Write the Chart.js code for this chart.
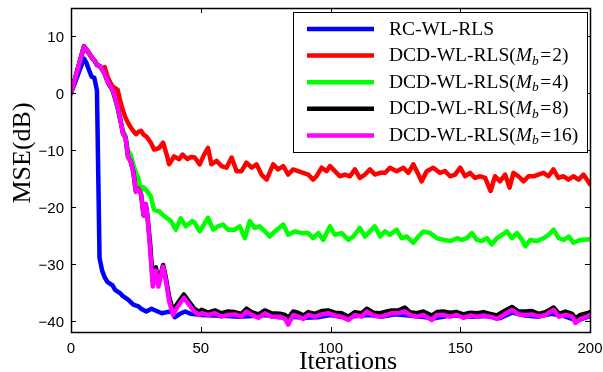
<!DOCTYPE html>
<html>
<head>
<meta charset="utf-8">
<script src="https://cdn.jsdelivr.net/npm/chart.js@4.4.0/dist/chart.umd.min.js"></script>
<style>
  html, body { margin: 0; padding: 0; background: #fff; }
  #wrap { width: 603px; height: 372px; }
</style>
</head>
<body>
<div id="wrap"><canvas id="mseChart" width="603" height="372"></canvas></div>
<script>
// MSE learning curves: RC-WL-RLS vs DCD-WL-RLS with several Mb values

// axis ticks
const xTicks = [0, 50, 100, 150, 200];
const yTicks = [10, 0, -10, -20, -30, -40];

// RC-WL-RLS
const rcIter = [
  0, 5, 6, 7, 8, 9, 10, 11, 12, 13,
  14, 16, 17, 19, 20, 22, 24, 26, 27, 29,
  31, 33, 35, 37, 39, 40, 42, 44, 46, 48,
  50, 55, 60, 65, 70, 75, 80, 85, 90, 95,
  100, 105, 110, 115, 120, 125, 130, 135, 140, 145,
  150, 155, 160, 165, 170, 175, 180, 185, 190, 195,
  200
];
const rcMse = [
  0, 6.1, 5.3, 4.0, 2.9, 2.7, 0.5, -29.0, -31.2, -32.4,
  -33.2, -33.8, -34.6, -35.2, -35.7, -36.3, -37.2, -37.5, -37.9, -38.4,
  -37.9, -38.3, -38.7, -38.5, -38.4, -39.4, -38.8, -38.4, -38.8, -38.9,
  -39.0, -39.1, -39.2, -39.3, -39.2, -39.0, -39.4, -39.3, -39.5, -39.4,
  -39.0, -39.4, -39.2, -39.0, -39.3, -38.9, -39.1, -39.3, -39.6, -39.2,
  -39.1, -39.3, -39.2, -39.6, -38.6, -39.1, -39.3, -38.8, -39.2, -40.0,
  -39.2
];

// DCD-WL-RLS, Mb = 2
const mb2Iter = [
  0, 5, 6, 7, 8, 9, 10, 11, 12, 13,
  14, 15, 16, 17, 18, 19, 20, 21, 22, 23,
  24, 25, 26, 27, 28, 29, 30, 31, 32, 33,
  34, 35.5, 37, 37.8, 38.8, 39.7, 41.7, 43, 44.9, 46.2,
  47.7, 49.6, 51.3, 52.8, 54.1, 56.1, 58, 59.9, 61.9, 63.8,
  65.7, 67.6, 69.6, 71.5, 73.4, 75.4, 77.9, 79.8, 81.8, 83.7,
  85.6, 87.5, 89.5, 91.4, 93.3, 94.6, 96.6, 98.5, 99.8, 101.7,
  103.6, 105.6, 107.5, 109.4, 111.3, 113.3, 115.2, 117.1, 119.1, 121,
  122.9, 125.5, 128.1, 130, 131.9, 133.9, 135.1, 137.1, 139.6, 142.2,
  144.1, 146.1, 148, 150, 151.9, 153.8, 155.7, 157.7, 159.6, 161.7,
  163.4, 165.3, 167.3, 169, 170.5, 172.4, 174.4, 176.3, 178.2, 180.1,
  182.1, 184, 185.9, 187.8, 189.8, 191.7, 193.6, 195.6, 197.5, 200
];
const mb2Mse = [
  0, 8.3, 7.7, 7.0, 6.3, 5.8, 5.0, 4.8, 4.3, 4.6,
  3.0, 2.0, 1.2, 0.9, 0.6, -1.4, -3.0, -4.3, -5.2, -6.0,
  -6.6, -7.2, -6.8, -6.6, -7.3, -7.6, -8.2, -8.9, -9.9, -9.8,
  -9.6, -8.7, -11.0, -12.5, -11.8, -11.1, -11.6, -10.8, -11.6, -11.2,
  -11.3, -12.5, -10.8, -9.6, -12.5, -11.9, -12.8, -13.1, -11.3, -13.7,
  -13.7, -12.2, -13.1, -12.5, -14.3, -15.2, -12.5, -13.4, -12.8, -14.3,
  -13.4, -13.7, -14.0, -14.3, -15.2, -14.6, -13.1, -13.7, -12.8, -13.7,
  -14.6, -14.3, -14.6, -13.4, -14.9, -14.3, -13.4, -14.3, -14.0, -14.0,
  -13.1, -13.7, -13.1, -14.0, -12.5, -14.3, -15.5, -13.7, -13.1, -14.0,
  -13.7, -14.6, -14.3, -13.1, -14.6, -14.0, -14.9, -14.6, -14.9, -17.2,
  -14.6, -15.5, -14.3, -16.6, -14.0, -14.6, -15.5, -14.6, -14.6, -14.3,
  -14.0, -14.6, -13.4, -14.9, -14.6, -15.2, -14.6, -15.2, -14.3, -16.0
];

// DCD-WL-RLS, Mb = 4
const mb4Iter = [
  0, 5, 6, 7, 8, 9, 10, 11, 12, 13,
  14, 15, 16, 17, 18, 19, 20, 21, 22, 23,
  24, 25, 26, 26.9, 27.8, 28.8, 30.7, 32, 34, 35.9,
  38.5, 40.4, 42.3, 44.2, 46.8, 47.7, 49.6, 52.8, 54.8, 56.7,
  58.6, 60.5, 63.1, 65, 67, 68.9, 70.8, 72.7, 74.7, 76.6,
  78.5, 81.8, 83.7, 86.3, 88.9, 91.4, 93.3, 95.3, 97.2, 99.8,
  101.7, 104.3, 106.9, 108.8, 111.3, 113.3, 115.2, 117.1, 119.1, 121,
  122.9, 125.5, 127.4, 129.4, 131.9, 133.9, 135.8, 138.4, 141, 143.5,
  146.1, 148.7, 150.6, 152.5, 154.5, 156.4, 158.3, 160.3, 162.1, 164.1,
  166.1, 168, 169.9, 171.9, 173.8, 175.1, 177, 179.5, 182.1, 184.1,
  186, 187.9, 189.9, 191.8, 193.7, 196.3, 200
];
const mb4Mse = [
  0, 8.2, 7.6, 7.0, 6.3, 5.8, 5.0, 4.8, 4.2, 3.4,
  2.2, 1.3, 0.4, -1.1, -2.7, -4.8, -6.5, -7.5, -10.2, -10.8,
  -12.5, -14.0, -15.0, -17.2, -16.5, -16.9, -18.1, -20.5, -20.8, -21.6,
  -22.5, -24.0, -22.0, -23.4, -22.5, -22.8, -24.3, -21.9, -24.0, -23.4,
  -23.1, -24.0, -24.0, -23.4, -25.5, -22.5, -23.7, -23.4, -24.3, -25.2,
  -24.3, -23.1, -24.9, -24.3, -24.6, -24.6, -25.5, -24.6, -25.8, -23.4,
  -24.9, -24.6, -25.8, -25.2, -23.7, -25.2, -24.3, -23.4, -25.2, -24.3,
  -24.9, -24.0, -25.5, -25.2, -26.3, -25.2, -24.3, -24.6, -25.5, -25.8,
  -26.0, -25.5, -25.8, -25.5, -24.6, -25.8, -26.0, -25.5, -26.6, -25.5,
  -24.9, -24.3, -25.5, -24.6, -25.8, -26.9, -25.8, -26.0, -25.5, -24.9,
  -24.0, -25.5, -25.8, -25.2, -26.3, -25.8, -25.7
];

// DCD-WL-RLS, Mb = 8 and Mb = 16 (read on the same iterations)
const mbHighIter = [
  0, 5, 6, 7, 8, 9, 10, 11, 12, 13,
  14, 15, 16, 17, 18, 19, 20, 21, 22, 23,
  24, 25, 26, 27, 28, 28.8, 29.5, 30.5, 31.5, 32.7,
  33.7, 35.5, 36.5, 37.8, 39.3, 41, 43.5, 45.5, 47.5, 49.5,
  50.3, 52.8, 55.4, 58, 60.5, 63.1, 65.7, 67.6, 69.6, 72.2,
  74.7, 77.3, 80.5, 82.5, 83.7, 85.6, 87.5, 89.5, 91.4, 94,
  96.6, 99.1, 101.7, 104.3, 106.9, 109.4, 112, 114, 116.5, 119.1,
  121.7, 123.6, 126.2, 128.7, 130.6, 133.2, 135.8, 139, 141, 143.5,
  146.1, 148.7, 151.2, 153.8, 156.4, 159, 161.5, 164.1, 166.7, 169.9,
  172.5, 175.1, 177.6, 180.2, 182.8, 186, 188, 190.6, 193.1, 194.4,
  196.3, 198.9, 200
];
const mb8Mse = [
  0, 8.2, 7.6, 7.0, 6.3, 5.8, 5.0, 4.8, 4.2, 3.4,
  2.2, 1.3, 0.6, -0.8, -2.5, -4.6, -7.0, -7.8, -11.2, -12.0,
  -13.8, -17.3, -16.8, -17.8, -21.5, -19.5, -21.8, -26.5, -32.8, -30.6,
  -33.4, -30.2, -32.3, -35.8, -38.2, -37.0, -35.4, -36.7, -37.9, -38.5,
  -38.1, -38.6, -38.2, -38.7, -38.4, -38.5, -38.8, -37.9, -38.5, -38.9,
  -38.2, -38.7, -38.8, -39.0, -39.6, -38.4, -38.6, -39.1, -38.5, -38.8,
  -38.3, -38.2, -38.6, -38.7, -39.3, -38.5, -38.7, -37.9, -38.6, -38.7,
  -38.4, -38.2, -38.2, -37.7, -38.5, -38.7, -38.4, -39.1, -38.5, -38.4,
  -38.6, -38.5, -38.9, -38.6, -38.7, -38.5, -38.8, -39.1, -38.4, -37.6,
  -38.4, -38.4, -38.3, -38.8, -38.5, -37.7, -38.8, -38.4, -38.8, -39.6,
  -39.0, -38.7, -38.5
];
const mb16Mse = [
  0, 8.2, 7.6, 7.0, 6.3, 5.8, 5.0, 4.8, 4.2, 3.4,
  2.2, 1.3, 0.6, -0.8, -2.5, -4.6, -7.0, -7.8, -11.2, -12.0,
  -13.8, -17.3, -16.8, -17.8, -21.5, -19.5, -21.8, -27.5, -34.0, -31.2,
  -34.0, -30.5, -32.8, -36.5, -39.0, -37.6, -36.0, -37.2, -38.4, -39.0,
  -38.7, -39.0, -38.7, -39.3, -39.0, -38.9, -39.3, -38.4, -39.0, -39.5,
  -38.7, -39.3, -39.3, -39.7, -40.7, -39.0, -39.3, -39.7, -39.0, -39.3,
  -38.9, -38.7, -39.1, -39.3, -39.9, -39.0, -39.3, -38.4, -39.1, -39.3,
  -39.0, -38.7, -38.7, -38.4, -39.0, -39.3, -39.0, -39.9, -39.0, -39.0,
  -39.3, -39.0, -39.5, -39.1, -39.3, -39.1, -39.3, -39.7, -39.0, -38.1,
  -38.9, -39.0, -38.9, -39.3, -39.0, -38.1, -39.3, -39.0, -39.3, -40.4,
  -39.7, -39.3, -39.0
];

const seriesNames = ['RC-WL-RLS', 'DCD-WL-RLS', 'DCD-WL-RLS', 'DCD-WL-RLS', 'DCD-WL-RLS'];
const mbValues = [null, 2, 4, 8, 16];
const seriesColors = ['#0000ff', '#ff0000', '#00ff00', '#000000', '#ff00ff'];

// x/y の配列から点列を作る
function toPoints(iters, values) {
  return iters.map((it, i) => ({ x: it, y: values[i] }));
}

const seriesPoints = [
  toPoints(rcIter, rcMse),
  toPoints(mb2Iter, mb2Mse),
  toPoints(mb4Iter, mb4Mse),
  toPoints(mbHighIter, mb8Mse),
  toPoints(mbHighIter, mb16Mse)
];

const SERIF = '"Liberation Serif", "Times New Roman", serif';
const SANS = '"Liberation Sans", Arial, sans-serif';

// legend label with italic M and subscript b
function drawLabel(ctx, i, x, y) {
  ctx.fillStyle = '#000';
  ctx.textBaseline = 'alphabetic';
  ctx.textAlign = 'left';
  ctx.font = '19.5px ' + SERIF;
  if (mbValues[i] === null) {
    ctx.fillText(seriesNames[i], x, y);
    return;
  }
  let cx = x;
  const head = seriesNames[i] + '(';
  ctx.fillText(head, cx, y);
  cx += ctx.measureText(head).width;
  ctx.font = 'italic 19.5px ' + SERIF;
  ctx.fillText('M', cx, y);
  cx += ctx.measureText('M').width;
  ctx.font = 'italic 13.5px ' + SERIF;
  ctx.fillText('b', cx, y + 3.5);
  cx += ctx.measureText('b').width + 1.5;
  ctx.font = '19.5px ' + SERIF;
  ctx.fillText('=', cx, y);
  cx += ctx.measureText('=').width + 1;
  ctx.fillText(mbValues[i] + ')', cx, y);
}

// MATLAB 風の枠・内向き目盛り・目盛りラベル・凡例・軸タイトル
const framePlugin = {
  id: 'matlabFrame',
  afterDraw(chart) {
    const ctx = chart.ctx;
    const a = chart.chartArea;
    const xs = chart.scales.x;
    const ys = chart.scales.y;
    const tick = 5;
    ctx.save();
    ctx.strokeStyle = '#000';
    ctx.lineWidth = 1;
    ctx.beginPath();
    xTicks.forEach(v => {
      const px = Math.round(xs.getPixelForValue(v)) + 0.5;
      ctx.moveTo(px, a.bottom); ctx.lineTo(px, a.bottom - tick);
      ctx.moveTo(px, a.top); ctx.lineTo(px, a.top + tick);
    });
    yTicks.forEach(v => {
      const py = Math.round(ys.getPixelForValue(v)) + 0.5;
      ctx.moveTo(a.left, py); ctx.lineTo(a.left + tick, py);
      ctx.moveTo(a.right, py); ctx.lineTo(a.right - tick, py);
    });
    ctx.stroke();
    ctx.lineWidth = 1.5;
    ctx.strokeRect(Math.round(a.left) + 0.5, Math.round(a.top) + 0.5,
      Math.round(a.right - a.left), Math.round(a.bottom - a.top));

    // tick labels
    ctx.fillStyle = '#000';
    ctx.font = '15px ' + SANS;
    ctx.textBaseline = 'alphabetic';
    ctx.textAlign = 'center';
    xTicks.forEach(v => {
      ctx.fillText(String(v), xs.getPixelForValue(v), a.bottom + 20.5);
    });
    ctx.textAlign = 'right';
    yTicks.forEach(v => {
      ctx.fillText(String(v).replace('-', '\u2212'), a.left - 7, ys.getPixelForValue(v) + 6);
    });

    // legend box
    const lx = 293, ly = 12, lw = 294, lh = 140;
    ctx.fillStyle = '#fff';
    ctx.fillRect(lx, ly, lw, lh);
    ctx.strokeStyle = '#000';
    ctx.lineWidth = 1;
    ctx.strokeRect(lx + 0.5, ly + 0.5, lw, lh);
    seriesNames.forEach((name, i) => {
      const y = 29 + i * 26.6;
      ctx.strokeStyle = seriesColors[i];
      ctx.lineWidth = 4.5;
      ctx.beginPath();
      ctx.moveTo(307, y); ctx.lineTo(374, y);
      ctx.stroke();
      drawLabel(ctx, i, 389, y + 5.5);
    });

    // axis titles
    ctx.fillStyle = '#000';
    ctx.font = '26px ' + SERIF;
    ctx.textAlign = 'center';
    ctx.textBaseline = 'alphabetic';
    ctx.fillText('Iterations', 348, 369);
    ctx.translate(30, 153);
    ctx.rotate(-Math.PI / 2);
    ctx.fillText('MSE(dB)', 0, 0);
    ctx.restore();
  }
};

new Chart(document.getElementById('mseChart').getContext('2d'), {
  type: 'line',
  data: {
    datasets: seriesPoints.map((pts, i) => ({
      label: mbValues[i] === null ? seriesNames[i] : seriesNames[i] + '(Mb=' + mbValues[i] + ')',
      data: pts,
      borderColor: seriesColors[i],
      backgroundColor: seriesColors[i],
      borderWidth: 4.5,
      pointRadius: 0,
      tension: 0,
      fill: false,
      borderJoinStyle: 'round',
      borderCapStyle: 'round',
      order: seriesNames.length - i
    }))
  },
  options: {
    responsive: false,
    animation: false,
    layout: { padding: { top: 8, right: 13, left: 0, bottom: 0 } },
    plugins: {
      legend: { display: false },
      tooltip: { enabled: false }
    },
    scales: {
      x: {
        type: 'linear',
        min: 0,
        max: 200,
        grid: { display: false, drawTicks: false },
        border: { display: false },
        ticks: { display: false },
        afterBuildTicks: s => { s.ticks = xTicks.map(v => ({ value: v })); },
        afterFit: s => { s.height = 40; }
      },
      y: {
        type: 'linear',
        min: -42,
        max: 15,
        grid: { display: false, drawTicks: false },
        border: { display: false },
        ticks: { display: false },
        afterBuildTicks: s => { s.ticks = yTicks.map(v => ({ value: v })); },
        afterFit: s => { s.width = 71; }
      }
    }
  },
  plugins: [framePlugin]
});
</script>
</body>
</html>
